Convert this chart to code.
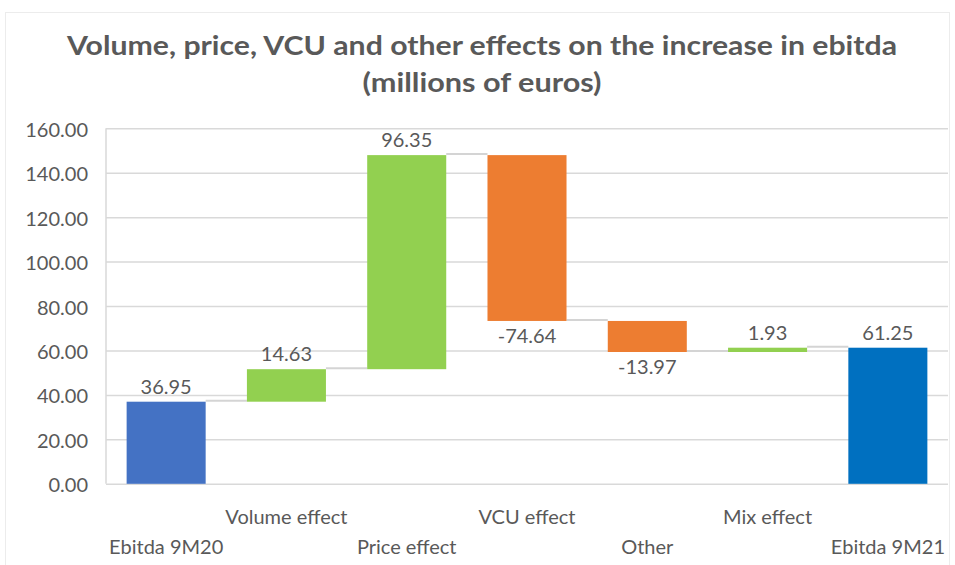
<!DOCTYPE html>
<html>
<head>
<meta charset="utf-8">
<script src="https://cdn.jsdelivr.net/npm/d3@7"></script>
<style>
  body { margin: 0; background: #fff; }
  text { font-family: Lato, "Open Sans", sans-serif; fill: #595959; }
</style>
</head>
<body>
<script>
// waterfall data
let categories = ["Ebitda 9M20", "Volume effect", "Price effect", "VCU effect", "Other", "Mix effect", "Ebitda 9M21"];
let values = [36.95, 14.63, 96.35, -74.64, -13.97, 1.93, 61.25];
let kinds = ["total", "delta", "delta", "delta", "delta", "delta", "total"];
let yTicks = [0, 20, 40, 60, 80, 100, 120, 140, 160];
let titleLines = ["Volume, price, VCU and other effects on the increase in ebitda", "(millions of euros)"];
let titleWidths = [830, 239]; // measured widths of the two title lines

let width = 955;
let height = 565;
let plot = { left: 106, right: 948, top: 128.3, bottom: 483.8 };

// running totals -> start/end for every bar
let running = 0;
let bars = categories.map((c, i) => {
  let start, end;
  if (kinds[i] == "total") {
    start = 0;
    end = values[i];
    running = values[i];
  } else {
    start = running;
    end = running + values[i];
    running = end;
  }
  return { name: c, value: values[i], kind: kinds[i], start: start, end: end, i: i };
});

let colorOf = d => {
  if (d.kind == "total") return d.i == 0 ? "#4472C4" : "#0070C0";
  return d.value >= 0 ? "#92D050" : "#ED7D31";
};

let x = d3
  .scaleBand()
  .domain(categories)
  .range([plot.left, plot.right])
  .paddingInner(0.343)
  .paddingOuter(0.1715);

let y = d3
  .scaleLinear()
  .domain([0, 160])
  .range([plot.bottom, plot.top]);

let svg = d3
  .select("body")
  .append("svg")
  .attr("width", width)
  .attr("height", height);

// faint chart border
svg
  .append("rect")
  .attr("x", 5.5)
  .attr("y", 12.5)
  .attr("width", 944)
  .attr("height", 560)
  .attr("fill", "none")
  .attr("stroke", "#ececec");

// title
svg
  .append("g")
  .selectAll("text")
  .data(titleLines)
  .enter()
  .append("text")
  .attr("x", 482)
  .attr("y", (d, i) => 55 + i * 37)
  .attr("text-anchor", "middle")
  .attr("font-family", "'Open Sans', sans-serif")
  .attr("font-size", 26)
  .attr("font-weight", "bold")
  .attr("textLength", (d, i) => titleWidths[i])
  .attr("lengthAdjust", "spacingAndGlyphs")
  .text(d => d);

// y axis with gridlines
let yAxis = g =>
  g
    .attr("transform", `translate(${plot.left},0)`)
    .call(
      d3
        .axisLeft(y)
        .tickValues(yTicks)
        .tickFormat(d3.format(".2f"))
        .tickSize(-(plot.right - plot.left))
        .tickPadding(18)
    )
    .call(g => g.select(".domain").remove())
    .call(g => g.selectAll(".tick line").attr("stroke", "#d9d9d9").attr("stroke-width", 1.5))
    .call(g =>
      g
        .selectAll(".tick text")
        .attr("font-size", 20)
        .attr("font-family", "Lato, sans-serif")
        .attr("fill", "#595959")
        .attr("dy", "0.4em")
    );

svg.append("g").call(yAxis);

// left axis line
svg
  .append("line")
  .attr("x1", plot.left)
  .attr("x2", plot.left)
  .attr("y1", y(160))
  .attr("y2", y(0))
  .attr("stroke", "#d9d9d9")
  .attr("stroke-width", 1.5);

// connectors between bars
let links = bars.slice(0, -1).map((d, i) => ({ from: d, to: bars[i + 1] }));
svg
  .append("g")
  .selectAll("line")
  .data(links)
  .enter()
  .append("line")
  .attr("x1", d => x(d.from.name) + x.bandwidth())
  .attr("x2", d => x(d.to.name))
  .attr("y1", d => y(d.from.end) - 1)
  .attr("y2", d => y(d.from.end) - 1)
  .attr("stroke", "#d4d4d4")
  .attr("stroke-width", 2);

// bars
svg
  .append("g")
  .selectAll("rect")
  .data(bars)
  .enter()
  .append("rect")
  .attr("x", d => x(d.name))
  .attr("width", x.bandwidth())
  .attr("y", d => y(Math.max(d.start, d.end)))
  .attr("height", d => Math.max(2, Math.abs(y(d.start) - y(d.end))))
  .attr("fill", colorOf);

// value labels
svg
  .append("g")
  .selectAll("text")
  .data(bars)
  .enter()
  .append("text")
  .attr("x", d => x(d.name) + x.bandwidth() / 2)
  .attr("y", d => (d.value >= 0 ? y(d.end) - 8 : y(d.end) + 22))
  .attr("text-anchor", "middle")
  .attr("font-size", 20)
  .text(d => d.value.toFixed(2));

// staggered category labels
svg
  .append("g")
  .selectAll("text")
  .data(categories)
  .enter()
  .append("text")
  .attr("x", d => x(d) + x.bandwidth() / 2)
  .attr("y", (d, i) => (i % 2 == 1 ? 524 : 554))
  .attr("text-anchor", "middle")
  .attr("font-size", 20)
  .text(d => d);
</script>
</body>
</html>
